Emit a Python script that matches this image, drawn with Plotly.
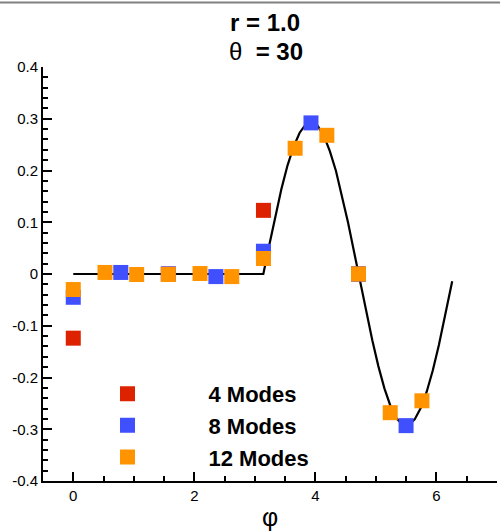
import plotly.graph_objects as go

# ---- data ----
curve_phi = [0.0, 3.14, 3.24, 3.34, 3.44, 3.54, 3.64, 3.74, 3.84, 3.94, 4.04, 4.14, 4.24,
             4.34, 4.44, 4.54, 4.64, 4.74, 4.84, 4.94, 5.04, 5.14, 5.24, 5.34, 5.44,
             5.54, 5.64, 5.74, 5.84, 5.94, 6.04, 6.14, 6.24, 6.26]
curve_val = [0.0, 0.0, 0.057, 0.113, 0.165, 0.210, 0.246, 0.273, 0.289, 0.293, 0.286, 0.267,
             0.237, 0.199, 0.152, 0.099, 0.042, -0.016, -0.074, -0.128, -0.178, -0.221,
             -0.255, -0.279, -0.291, -0.292, -0.281, -0.259, -0.227, -0.186, -0.137,
             -0.083, -0.025, -0.014]

modes4_phi = [0.0, 1.571, 3.142, 4.712]
modes4_val = [-0.124, 0.0, 0.123, 0.0]

modes8_phi = [0.0, 0.785, 1.571, 2.356, 3.142, 3.927, 4.712, 5.498]
modes8_val = [-0.045, 0.003, 0.0, -0.005, 0.044, 0.292, 0.0, -0.293]

modes12_phi = [0.0, 0.524, 1.047, 1.571, 2.094, 2.618, 3.142, 3.665, 4.189, 4.712, 5.236, 5.760]
modes12_val = [-0.030, 0.003, -0.001, -0.001, 0.001, -0.005, 0.030, 0.243, 0.268, 0.0, -0.268, -0.245]

series_names = ["4 Modes", "8 Modes", "12 Modes"]
series_colors = ["#DD2200", "#4050FF", "#FF9400"]

x_tickvals = [0, 2, 4, 6]
x_ticktext = ["0", "2", "4", "6"]
y_tickvals = [0.4, 0.3, 0.2, 0.1, 0.0, -0.1, -0.2, -0.3, -0.4]
y_ticktext = ["0.4", "0.3", "0.2", "0.1", "0", "-0.1", "-0.2", "-0.3", "-0.4"]

FONT = "Liberation Sans, Arial, Helvetica, sans-serif"

fig = go.Figure()
fig.add_trace(go.Scatter(x=curve_phi, y=curve_val, mode="lines",
                         line=dict(color="black", width=2.2), showlegend=False,
                         hoverinfo="skip"))
for phis, vals, name, col in [(modes4_phi, modes4_val, series_names[0], series_colors[0]),
                              (modes8_phi, modes8_val, series_names[1], series_colors[1]),
                              (modes12_phi, modes12_val, series_names[2], series_colors[2])]:
    fig.add_trace(go.Scatter(x=phis, y=vals, mode="markers", name=name,
                             marker=dict(symbol="square", size=15, color=col,
                                         line=dict(width=0))))

axis_common = dict(showline=True, linecolor="black", linewidth=2, mirror=False,
                   showgrid=False, zeroline=False, ticks="inside", ticklen=9,
                   tickwidth=2, tickcolor="black",
                   tickfont=dict(family=FONT, size=15, color="black"))

fig.update_xaxes(range=[-0.5, 7], tickmode="array", tickvals=x_tickvals, ticktext=x_ticktext,
                 minor=dict(ticks="inside", dtick=0.5, tick0=0, ticklen=5, tickwidth=1.5,
                            tickcolor="black", showgrid=False),
                 **axis_common)
fig.update_yaxes(range=[-0.4, 0.4], tickmode="array", tickvals=y_tickvals, ticktext=y_ticktext,
                 minor=dict(ticks="inside", dtick=0.02, tick0=0, ticklen=5, tickwidth=1.5,
                            tickcolor="black", showgrid=False),
                 **axis_common)

fig.update_layout(
    width=500, height=531,
    margin=dict(l=43, r=3, t=67, b=50),
    paper_bgcolor="white", plot_bgcolor="white",
    font=dict(family=FONT, color="black"),
    legend=dict(x=0.0077, y=0.261, xanchor="left", yanchor="top",
                bgcolor="rgba(0,0,0,0)", itemwidth=152,
                font=dict(family=FONT, size=22, color="black", weight="bold"),
                tracegroupgap=0),
    annotations=[
        dict(text="<b>r = 1.0</b>", xref="paper", yref="paper", x=0.489, y=1.108,
             xanchor="center", yanchor="middle", showarrow=False,
             font=dict(family=FONT, size=24, color="black")),
        dict(text="θ\u00a0 <b>= 30</b>", xref="paper", yref="paper", x=0.491, y=1.038,
             xanchor="center", yanchor="middle", showarrow=False,
             font=dict(family=FONT, size=24, color="black")),
        dict(text="φ", xref="paper", yref="paper", x=0.5, y=-0.087,
             xanchor="center", yanchor="middle", showarrow=False,
             font=dict(family=FONT, size=25, color="black")),
    ],
    shapes=[dict(type="line", xref="paper", yref="paper", x0=-0.1, x1=1.01,
                 y0=1.1555, y1=1.1555, line=dict(color="#808080", width=2))],
)

fig.write_html("out.html")
